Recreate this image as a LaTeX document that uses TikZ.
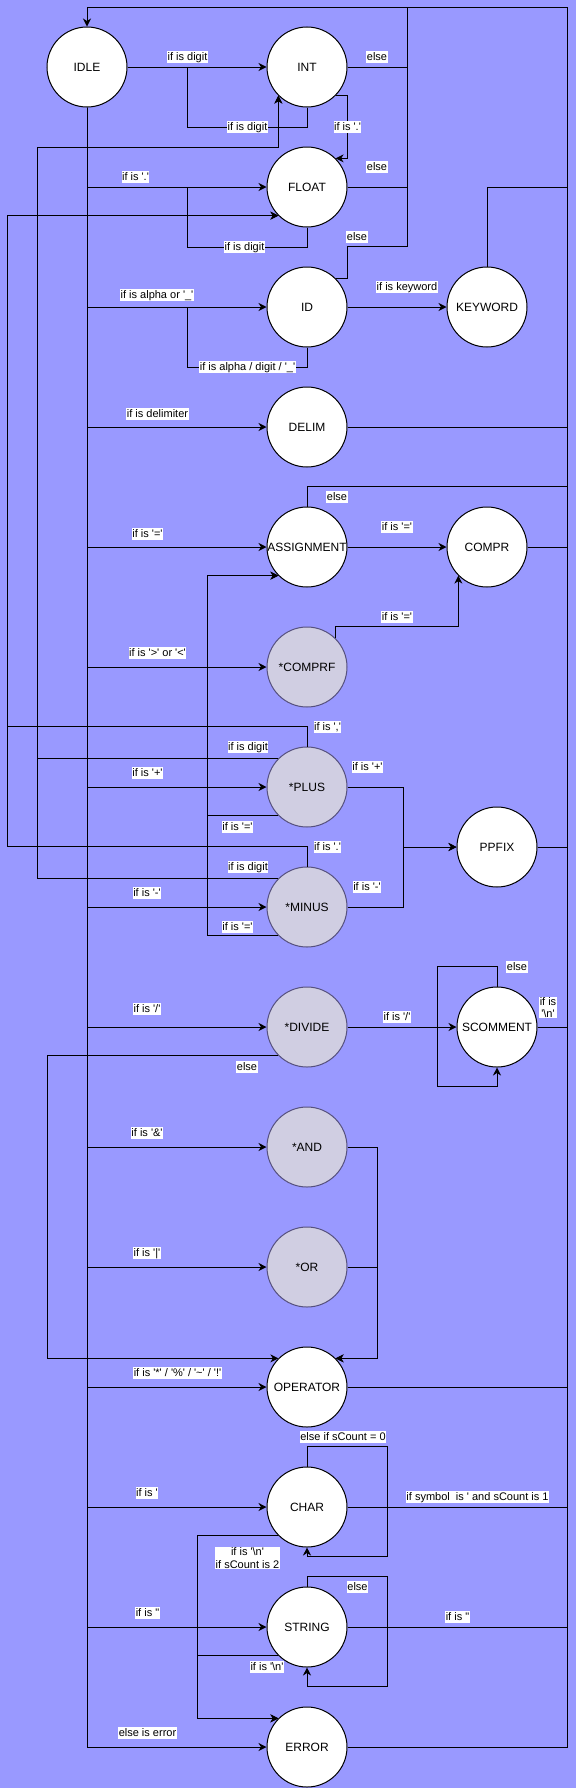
\documentclass[tikz,border=0pt]{standalone}
\usepackage{fontspec}
\newfontfamily\drawfont{Liberation Sans}
\usetikzlibrary{shapes.geometric, arrows.meta}
\definecolor{canvas}{HTML}{9999FF}
\definecolor{pendfill}{HTML}{D0CEE2}
\definecolor{pendline}{HTML}{56517E}
\tikzstyle{token} = [circle, minimum size=80pt, inner sep=0pt, text centered, draw=black, fill=white, font=\drawfont\fontsize{12}{14}\selectfont]
\tikzstyle{pending} = [token, draw=pendline, fill=pendfill]
\tikzstyle{note} = [fill=white, inner sep=0.5pt, font=\drawfont\fontsize{11}{12.5}\selectfont]
\tikzstyle{cond} = [note, text height=8.5pt, text depth=2.5pt]
\tikzstyle{arrow} = [->,>={Stealth[length=8pt,width=8pt,inset=2.5pt]}]

\begin{document}
\begin{tikzpicture}[x=1pt, y=-1pt, node distance=120pt, line width=1pt]

% Background
\fill[canvas] (0,0) rectangle (576,1788);
\useasboundingbox (0,0) rectangle (576,1788);

% Column 1 - Start state
\node (IDLE) [token] at (87,67) {IDLE};

% Column 2 - States reached from IDLE
\node (INT) [token, right of=IDLE, xshift=100pt] {INT};
\node (FLOAT) [token, below of=INT] {FLOAT};
\node (ID) [token, below of=FLOAT] {ID};
\node (DELIM) [token, below of=ID] {DELIM};
\node (ASSIGN) [token, below of=DELIM] {ASSIGNMENT};
\node (COMPRF) [pending, below of=ASSIGN] {*COMPRF};
\node (PLUS) [pending, below of=COMPRF] {*PLUS};
\node (MINUS) [pending, below of=PLUS] {*MINUS};
\node (DIVIDE) [pending, below of=MINUS] {*DIVIDE};
\node (AND) [pending, below of=DIVIDE] {*AND};
\node (OR) [pending, below of=AND] {*OR};
\node (OPER) [token, below of=OR] {OPERATOR};
\node (CHAR) [token, below of=OPER] {CHAR};
\node (STRING) [token, below of=CHAR] {STRING};
\node (ERROR) [token, below of=STRING] {ERROR};

% Column 3 - Follow-up states
\node (KEYWORD) [token, right of=ID, xshift=60pt] {KEYWORD};
\node (COMPR) [token, right of=ASSIGN, xshift=60pt] {COMPR};
\node (PPFIX) [token, right of=PLUS, xshift=70pt, yshift=-60pt] {PPFIX};
\node (SCOMM) [token, right of=DIVIDE, xshift=70pt] {SCOMMENT};

% Rails
\coordinate (topR) at (567.5,7.3);
\coordinate (topM) at (407.3,7.3);
\coordinate (railA) at (7.3,0);
\coordinate (railC) at (207.5,0);
\coordinate (railE) at (47.7,0);
\coordinate (railF) at (197.6,0);
\coordinate (digitBend) at (37.5,147);

% Column 1 - Arrows out of IDLE
\draw [arrow] (IDLE.east) -- (INT.west);
\draw [arrow] (IDLE.south) |- (FLOAT.west);
\draw [arrow] (IDLE.south) |- (ID.west);
\draw [arrow] (IDLE.south) |- (DELIM.west);
\draw [arrow] (IDLE.south) |- (ASSIGN.west);
\draw [arrow] (IDLE.south) |- (COMPRF.west);
\draw [arrow] (IDLE.south) |- (PLUS.west);
\draw [arrow] (IDLE.south) |- (MINUS.west);
\draw [arrow] (IDLE.south) |- (DIVIDE.west);
\draw [arrow] (IDLE.south) |- (AND.west);
\draw [arrow] (IDLE.south) |- (OR.west);
\draw [arrow] (IDLE.south) |- (OPER.west);
\draw [arrow] (IDLE.south) |- (CHAR.west);
\draw [arrow] (IDLE.south) |- (STRING.west);
\draw [arrow] (IDLE.south) |- (ERROR.west);

% Column 2 - Loops and links
\draw (INT.south) -- ++(0,20) -- ++(-120,0) -- ++(0,-60);
\draw [arrow] (INT.south east) -- ++(12,0) |- (FLOAT.north east);
\draw (FLOAT.south) -- ++(0,20) -- ++(-120,0) -- ++(0,-60);
\draw (ID.south) -- ++(0,20) -- ++(-120,0) -- ++(0,-60);
\draw [arrow] (ID.east) -- (KEYWORD.west);
\draw [arrow] (ASSIGN.east) -- (COMPR.west);
\draw [arrow] (COMPRF.north east) -- ++(0,-12) -| (COMPR.south west);
\draw [arrow] (PLUS.east) -- ++(55.5,0) |- (PPFIX.west);
\draw [arrow] (MINUS.east) -- ++(55.5,0) |- (PPFIX.west);
\draw [arrow] (PLUS.north) -- ++(0,-20) -| (FLOAT.south west -| railA) -- (FLOAT.south west);
\draw [arrow] (MINUS.north) -- ++(0,-20) -| (FLOAT.south west -| railA) -- (FLOAT.south west);
\draw [arrow] (PLUS.north west) -| (digitBend) -| (INT.south west);
\draw [arrow] (MINUS.north west) -| (digitBend) -| (INT.south west);
\draw [arrow] (PLUS.south west) -| (ASSIGN.south west -| railC) -- (ASSIGN.south west);
\draw [arrow] (MINUS.south west) -| (ASSIGN.south west -| railC) -- (ASSIGN.south west);
\draw [arrow] (DIVIDE.east) -- (SCOMM.west);
\draw [arrow] (SCOMM.north) -- ++(0,-20) -- ++(-60,0) -- ++(0,120) -| (SCOMM.south);
\draw [arrow] (DIVIDE.south west) -| (OPER.north west -| railE) -- (OPER.north west);
\draw [arrow] (AND.east) -- ++(30,0) |- (OPER.north east);
\draw [arrow] (OR.east) -- ++(30,0) |- (OPER.north east);
\draw [arrow] (CHAR.north) -- ++(0,-20) -- ++(80,0) -- ++(0,110) -| (CHAR.south);
\draw [arrow] (CHAR.south west) -| (ERROR.north west -| railF) -- (ERROR.north west);
\draw [arrow] (STRING.north) -- ++(0,-10) -- ++(80,0) -- ++(0,110) -| (STRING.south);
\draw [arrow] (STRING.south west) -| (ERROR.north west -| railF) -- (ERROR.north west);

% Return arrows to IDLE
\draw (INT.east) -| (topM);
\draw (FLOAT.east) -| (topM);
\draw (ID.north east) -- ++(12,0) -- ++(0,-32) -| (topM);
\draw (KEYWORD.north) |- (FLOAT.east -| topR);
\draw (DELIM.east) -| (topR);
\draw (ASSIGN.north) -- ++(0,-20) -| (topR);
\draw (COMPR.east) -| (topR);
\draw (PPFIX.east) -| (topR);
\draw (SCOMM.east) -| (topR);
\draw (OPER.east) -| (topR);
\draw (CHAR.east) -| (topR);
\draw (STRING.east) -| (topR);
\draw [arrow] (ERROR.east) -| (topR) -| (IDLE.north);

% Labels
\node (cIdleInt) [cond] at (187.5,57) {if is digit};
\node (cIntLoop) [cond] at (247.5,127) {if is digit};
\node (cIntFloat) [cond] at (347.5,127) {if is '.'};
\node (cIntElse) [cond] at (377,57) {else};
\node (cIdleFloat) [cond] at (135.5,177) {if is '.'};
\node (cFloatLoop) [cond] at (244.5,247) {if is digit};
\node (cFloatElse) [cond] at (377,167) {else};
\node (cIdleId) [cond] at (157,295) {if is alpha or '\_'};
\node (cIdLoop) [cond] at (247.5,367) {if is alpha / digit / '\_'};
\node (cIdElse) [cond] at (357,237) {else};
\node (cIdKey) [cond] at (407,287) {if is keyword};
\node (cIdleDelim) [cond] at (157.5,414) {if is delimiter};
\node (cIdleAssign) [cond] at (147.5,534) {if is '='};
\node (cAssignElse) [cond] at (337,497) {else};
\node (cAssignCompr) [cond] at (397,527) {if is '='};
\node (cIdleComprf) [cond] at (157.5,653) {if is '>' or '<'};
\node (cComprfCompr) [cond] at (397,617) {if is '='};
\node (cPlusDot) [cond] at (327.5,727) {if is ','};
\node (cPlusDigit) [cond] at (248,747) {if is digit};
\node (cIdlePlus) [cond] at (147.5,773) {if is '+'};
\node (cPlusPpfix) [cond] at (367.5,767) {if is '+'};
\node (cPlusAssign) [cond] at (237.5,827) {if is '='};
\node (cMinusDot) [cond] at (327.5,847) {if is '.'};
\node (cMinusDigit) [cond] at (248,867) {if is digit};
\node (cIdleMinus) [cond] at (147,893) {if is '-'};
\node (cMinusPpfix) [cond] at (367,887) {if is '-'};
\node (cMinusAssign) [cond] at (237.5,927) {if is '='};
\node (cIdleDivide) [cond] at (147,1009) {if is '/'};
\node (cDivideComm) [cond] at (397,1017) {if is '/'};
\node (cDivideElse) [cond] at (247,1067) {else};
\node (cCommElse) [cond] at (517,967) {else};
\node (cCommNl) [note, align=center] at (548,1007.5) {if is\\'\textbackslash n'};
\node (cIdleAnd) [cond] at (147,1133) {if is '\&'};
\node (cIdleOr) [cond] at (147,1253) {if is '|'};
\node (cIdleOper) [cond] at (177.5,1373) {if is '*' / '\%' / '\textasciitilde' / '!'};
\node (cCharElse) [cond] at (343,1437) {else if sCount = 0};
\node (cIdleChar) [cond] at (147,1493) {if is '};
\node (cCharDone) [cond] at (477.5,1497) {if symbol\ \ is ' and sCount is 1};
\node (cCharErr) [note, align=center] at (247.5,1558) {if is '\textbackslash n'\\if sCount is 2};
\node (cStringElse) [cond] at (357.5,1587) {else};
\node (cIdleString) [cond] at (147.5,1613) {if is "};
\node (cStringDone) [cond] at (457.5,1617) {if is "};
\node (cStringErr) [cond] at (267,1667) {if is '\textbackslash n'};
\node (cIdleError) [cond] at (147.5,1733) {else is error};

\end{tikzpicture}
\end{document}
